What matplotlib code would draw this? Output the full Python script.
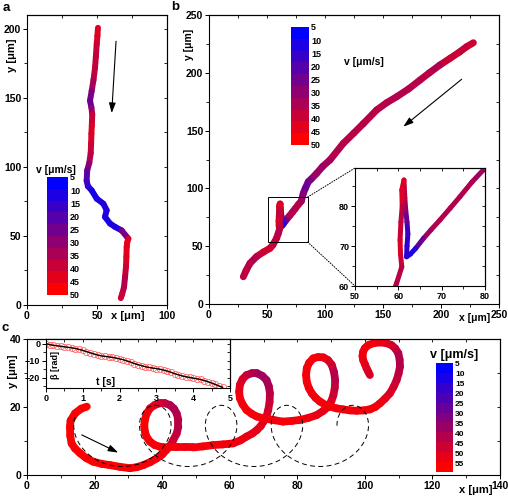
import numpy as np
import matplotlib
matplotlib.use('Agg')
import matplotlib.pyplot as plt
from matplotlib.collections import LineCollection
from matplotlib.colors import LinearSegmentedColormap, ListedColormap, BoundaryNorm, Normalize
from matplotlib.cm import ScalarMappable
from matplotlib.ticker import MultipleLocator, FixedLocator, FixedFormatter, NullLocator
from matplotlib.patches import Rectangle, ConnectionPatch

plt.rcParams['font.family'] = ['Liberation Sans', 'DejaVu Sans']
plt.rcParams['font.weight'] = 'bold'
plt.rcParams['axes.labelweight'] = 'bold'

#----- data -----
# panel a : trajectory (x, y in um) and speed v (um/s)
a_x = [50.7, 50.3, 49.8, 49.2, 48.6, 47.5, 46.2, 45.0, 46.0, 46.6, 46.3, 46.0, 45.8, 45.5,
       44.5, 43.0, 42.6, 43.5, 46.2, 49.8, 54.5, 56.9, 55.7, 59.3, 63.0, 67.6, 72.4, 71.5,
       71.2, 71.0, 70.7, 70.0, 69.3, 68.0, 67.0]
a_y = [200.7, 195, 189, 180, 172, 163, 155, 148, 143, 138, 130, 124, 117, 110,
       103, 97.5, 90, 86, 83, 77, 73.4, 68.6, 63.8, 59, 56.5, 54, 48, 45,
       42, 35, 27.7, 20, 13, 8, 5]
a_v = [42, 45, 42, 38, 40, 38, 32, 22, 25, 38, 42, 45, 42, 40,
       35, 25, 18, 15, 10, 8, 12, 10, 12, 8, 10, 12, 40, 48,
       45, 45, 42, 38, 35, 40, 42]

# panel b
b_x = [227.9, 222, 216, 207.8, 199, 190, 182, 172, 161.8, 153, 144.5, 133, 125, 115.8,
       104.3, 98, 92.8, 88, 85.6, 83, 81.3, 79.6, 77, 74.2, 72, 69.6, 67.5, 65.8, 64,
       62.8, 61.9, 62.0, 62.2, 62.0, 61.7, 61.5, 61.3, 60.8, 60.9, 60.6, 60.4, 60.5,
       60.8, 59.6, 58.3, 55, 52.6, 47, 41, 35.3, 32, 29.6]
b_y = [226, 222.5, 218, 212.5, 206.7, 200, 193.8, 186, 179.3, 174, 167.8, 156, 148, 139,
       124.6, 119, 113, 108, 105.8, 100, 95.8, 89, 86, 82.3, 79.5, 76.5, 74, 71.9, 69.4,
       68, 67.3, 70, 73, 76, 79, 82, 86.5, 84, 80, 76, 71.5, 68,
       64.8, 60.7, 57, 51, 48.2, 45, 41, 35.2, 29, 23.6]
b_v = [40, 42, 38, 42, 38, 35, 40, 35, 38, 35, 40, 35, 40, 35,
       38, 30, 35, 30, 28, 22, 25, 32, 35, 38, 35, 38, 35, 32, 15,
       8, 10, 15, 12, 20, 28, 35, 42, 45, 42, 35, 45, 42,
       40, 35, 38, 40, 38, 45, 38, 35, 40, 38]

# panel c
c_x = [17.7, 16, 14.2, 12.9, 12.7, 12.8, 13.2, 14.2, 15.7, 17.5, 19.6, 22, 24.6, 27.5,
       30.5, 32.5, 34.4, 36.5, 38.4, 40, 41.3, 42.5, 43.3, 44.3, 44.8, 44.8, 44.3, 43.5,
       42.3, 40.8, 39.4, 37.8, 36.4, 35.4, 34.9, 34.7, 34.9, 35.4, 36.4, 37.8, 39.4, 41.8,
       44.3, 46.8, 49.2, 52, 55.1, 58, 61, 63.2, 65, 66.7, 68, 69.2, 70, 70.9,
       71.4, 71.8, 71.9, 71.6, 70.9, 69.6, 68, 66.5, 65, 63.8, 63, 62.8, 63, 63.8,
       65, 66.5, 68, 69.5, 70.9, 73.3, 75.8, 78.3, 80.8, 83.3, 85.7, 87.6, 89.2, 90.1,
       90.7, 91.1, 91.2, 90.9, 90.2, 89.1, 87.7, 86.2, 84.7, 83.5, 82.8, 82.6, 82.8, 83.4,
       84.3, 85.4, 86.7, 88.2, 89.7, 91.6, 93.6, 95.6, 97.6, 99.6, 101.5, 103.1, 104.5, 106,
       107.4, 108.5, 109.4, 110, 110.4, 110.3, 109.9, 109, 107.9, 106.3, 104.5, 102.7, 101, 100,
       99.5, 99.3, 99.5, 100, 100.5, 101, 101.5]
c_y = [20.1, 19.5, 18.1, 16, 14.2, 11.5, 9.3, 7.8, 6.4, 5, 3.9, 3.3, 2.9, 2.4,
       2, 2.3, 2.9, 3.8, 4.9, 6, 7.4, 8.8, 10.3, 12.2, 14.2, 16.2, 18.1, 19.5,
       20.6, 21.1, 21.1, 20.6, 19.6, 18, 16.2, 14.5, 12.7, 11.2, 9.8, 8.8, 8.3, 8.1,
       8.1, 8.1, 8.1, 8.4, 8.8, 9, 9.3, 10.2, 11.3, 12.2, 13.2, 14.4, 15.7, 17.3,
       19.1, 21.5, 24, 26, 27.9, 29.2, 29.9, 29.9, 29.4, 28.2, 26.5, 24.5, 22.6, 20.8,
       19.1, 18, 17.2, 16.8, 16.5, 16.1, 15.7, 15.9, 16.2, 16.8, 17.6, 18.8, 20.1, 21.8,
       23.5, 25.7, 27.9, 30.2, 32.4, 33.8, 34.6, 34.7, 34.3, 33, 31.4, 29.4, 27.4, 25.6,
       24, 22.7, 21.6, 20.7, 20.1, 19.6, 19.3, 19, 18.9, 19, 19.3, 20, 21.1, 22.5,
       24, 25.9, 27.9, 29.9, 31.9, 33.9, 35.8, 37.2, 38.2, 38.8, 39, 38.8, 38.2, 37.3,
       36.3, 35, 33.8, 32.6, 31.4, 30.4, 29.4]
c_v = [55, 54, 55, 53, 55, 54, 55, 53, 55, 54, 55, 53, 55, 54,
       55, 53, 54, 53, 52, 53, 52, 50, 47, 44, 41, 42, 40, 40,
       38, 41, 44, 48, 50, 52, 54, 54, 54, 53, 54, 52, 54, 52,
       54, 51, 53, 52, 54, 52, 54, 52, 51, 50, 51, 50, 50, 48,
       47, 45, 43, 40, 38, 37, 36, 38, 42, 45, 48, 50, 52, 53,
       54, 52, 54, 52, 54, 51, 54, 52, 54, 52, 51, 50, 51, 50,
       47, 44, 41, 40, 42, 47, 50, 52, 53, 54, 52, 54, 52, 54,
       52, 54, 52, 54, 52, 54, 52, 54, 52, 54, 52, 54, 52, 51,
       50, 47, 45, 43, 41, 40, 40, 42, 45, 48, 50, 52, 53, 54,
       52, 54, 52, 51, 50, 48, 47]

# panel c inset : rotation angle beta(t)
beta_t = [0.0, 0.1, 0.2, 0.3, 0.4, 0.5, 0.6, 0.7, 0.8, 0.9, 1.0, 1.1, 1.2, 1.3, 1.4, 1.5,
          1.6, 1.7, 1.8, 1.9, 2.0, 2.1, 2.2, 2.3, 2.4, 2.5, 2.6, 2.7, 2.8, 2.9, 3.0, 3.1,
          3.2, 3.3, 3.4, 3.5, 3.6, 3.7, 3.8, 3.9, 4.0, 4.1, 4.2, 4.3, 4.4, 4.5, 4.6, 4.7, 4.8]
beta = [0.0, -0.5, -0.9, -1.2, -1.5, -1.8, -2.1, -2.4, -2.8, -3.3, -3.9, -4.6, -5.3, -6.0,
        -6.6, -7.1, -7.4, -7.7, -8.0, -8.4, -8.9, -9.4, -10.1, -10.8, -11.6, -12.3, -12.9,
        -13.5, -13.9, -14.3, -14.6, -15.0, -15.5, -16.1, -16.8, -17.6, -18.3, -18.9, -19.4,
        -19.8, -20.2, -20.6, -21.0, -21.6, -22.3, -23.1, -23.9, -24.8, -25.6]

# fitted helical (trochoid) path drawn dashed in c
fit_x0, fit_r, fit_d, fit_yc = 18.5, 3.1, 9.0, 11.5
fit_t0, fit_t1 = 0.9, 8 * np.pi + 1.3

levels_ab = [5, 10, 15, 20, 25, 30, 35, 40, 45, 50]
levels_c = [5, 10, 15, 20, 25, 30, 35, 40, 45, 50, 55]

#------ Figure ----------
vcmap = LinearSegmentedColormap.from_list('br', [(0, 0, 1), (1, 0, 0)])
W, H = 508, 501
fig = plt.figure(figsize=(W / 100, H / 100), dpi=100)


def box(l, t, r, b):
    return [l / W, 1 - b / H, (r - l) / W, (b - t) / H]


def style(ax, xmaj, xmin, ymaj, ymin, fs):
    for sp in ax.spines.values():
        sp.set_linewidth(0.8)
    ax.xaxis.set_major_locator(MultipleLocator(xmaj))
    ax.xaxis.set_minor_locator(MultipleLocator(xmin))
    ax.yaxis.set_major_locator(MultipleLocator(ymaj))
    ax.yaxis.set_minor_locator(MultipleLocator(ymin))
    ax.tick_params(which='major', direction='out', length=3, width=0.7, labelsize=fs, pad=1.2)
    ax.tick_params(which='minor', direction='out', length=2, width=0.6)
    top = ax.secondary_xaxis('top')
    top.xaxis.set_major_locator(MultipleLocator(xmaj))
    top.xaxis.set_minor_locator(MultipleLocator(xmin))
    top.tick_params(which='both', direction='in', labeltop=False, length=2, width=0.6)
    rgt = ax.secondary_yaxis('right')
    rgt.yaxis.set_major_locator(MultipleLocator(ymaj))
    rgt.yaxis.set_minor_locator(MultipleLocator(ymin))
    rgt.tick_params(which='both', direction='in', labelright=False, length=2, width=0.6)
    for s in (top, rgt):
        for sp in s.spines.values():
            sp.set_linewidth(0.8)


def track(ax, x, y, v, norm, lw):
    pts = np.column_stack([x, y])
    segs = np.stack([pts[:-1], pts[1:]], axis=1)
    vv = (np.asarray(v[:-1], float) + np.asarray(v[1:], float)) / 2
    lc = LineCollection(segs, colors=vcmap(norm(vv)), linewidths=lw,
                        capstyle='round', joinstyle='round', zorder=2)
    ax.add_collection(lc)


def vbar(rect, levels, vmin, vmax, ticks, fs):
    cax = fig.add_axes(rect)
    cols = [vcmap((lv - vmin) / (vmax - vmin)) for lv in levels]
    bounds = [levels[0] - 2.5] + [lv + 2.5 for lv in levels]
    sm = ScalarMappable(norm=BoundaryNorm(bounds, len(levels)), cmap=ListedColormap(cols))
    cb = fig.colorbar(sm, cax=cax)
    cb.outline.set_visible(False)
    cax.invert_yaxis()
    cax.yaxis.set_major_locator(FixedLocator(ticks))
    cax.yaxis.set_major_formatter(FixedFormatter([str(lv) for lv in levels]))
    cax.yaxis.set_minor_locator(NullLocator())
    cax.tick_params(which='both', length=0, width=0, labelsize=fs, pad=1.5)
    return cax


def arrow(ax, start, end):
    ax.annotate('', xy=end, xytext=start,
                arrowprops=dict(arrowstyle='-|>,head_length=0.6,head_width=0.2',
                                lw=0.8, color='k', shrinkA=0, shrinkB=0))


norm_ab = Normalize(5, 50)
norm_c = Normalize(5, 55)

# ---- panel a
axa = fig.add_axes(box(27, 15, 167, 305))
axa.set_xlim(0, 100)
axa.set_ylim(0, 210)
style(axa, 50, 25, 50, 25, 7.5)
track(axa, a_x, a_y, a_v, norm_ab, 4.3)
arrow(axa, (63.6, 191), (60.5, 139))
axa.set_xlabel('x [\u03bcm]', fontsize=8)
axa.xaxis.set_label_coords(0.72, -0.022)
axa.set_ylabel('y [\u03bcm]', fontsize=8)
axa.yaxis.set_label_coords(-0.07, 0.86)
vbar(box(47, 177, 68, 295), levels_ab, 5, 50, [2.5 + 50 * i / 9 for i in range(10)], 6.5)
fig.text(56 / W, 1 - 170 / H, 'v [\u03bcm/s]', ha='center', va='center', fontsize=7.5)

# ---- panel b
axb = fig.add_axes(box(209, 15, 499, 304))
axb.set_xlim(0, 250)
axb.set_ylim(0, 250)
style(axb, 50, 25, 50, 25, 7.5)
track(axb, b_x, b_y, b_v, norm_ab, 5)
arrow(axb, (217.8, 194.4), (167.5, 153.4))
axb.set_xlabel('x [\u03bcm]', fontsize=7.5)
axb.xaxis.set_label_coords(0.915, -0.03)
axb.set_ylabel('y [\u03bcm]', fontsize=7.5)
axb.yaxis.set_label_coords(-0.05, 0.9)
axb.add_patch(Rectangle((50.5, 53.6), 34.5, 38.9, fill=False, lw=0.7, ec='k', zorder=3))
vbar(box(291, 27, 309, 145), levels_ab, 5, 50, [2.5 + 50 * i / 9 for i in range(10)], 6.5)
fig.text(364 / W, 1 - 62 / H, 'v [\u03bcm/s]', ha='center', va='center', fontsize=7.5)

axbi = fig.add_axes(box(355, 168, 485, 286))
axbi.set_xlim(50, 80)
axbi.set_ylim(60, 89.5)
style(axbi, 10, 5, 10, 5, 6.5)
track(axbi, b_x, b_y, b_v, norm_ab, 3.6)
for corner, frac in (((85, 92.5), (0, 1)), ((85, 53.6), (0, 0))):
    fig.add_artist(ConnectionPatch(xyA=corner, coordsA=axb.transData, xyB=frac,
                                   coordsB=axbi.transAxes, ls=':', lw=0.7, color='k'))

# ---- panel c
axc = fig.add_axes(box(27, 339, 500, 475))
axc.set_xlim(0, 140)
axc.set_ylim(0, 40)
style(axc, 20, 10, 20, 10, 7.5)
track(axc, c_x, c_y, c_v, norm_c, 5.6)
tt = np.linspace(fit_t0, fit_t1, 600)
axc.plot(fit_x0 + fit_r * tt - fit_d * np.sin(tt), fit_yc + fit_d * np.cos(tt),
         color='k', lw=0.7, dashes=(5, 3.5), zorder=4)
arrow(axc, (16.2, 11.8), (27, 6.6))
axc.set_xlabel('x [\u03bcm]', fontsize=8)
axc.xaxis.set_label_coords(0.949, -0.07)
axc.set_ylabel('y [\u03bcm]', fontsize=8)
axc.yaxis.set_label_coords(-0.02, 0.76)
vbar(box(436, 363, 453, 472), levels_c, 5, 55, [lv - 2.0 for lv in levels_c], 6)
fig.text(454 / W, 1 - 355 / H, 'v [\u03bcm/s]', ha='center', va='center', fontsize=9)

axci = fig.add_axes(box(46, 339, 230, 388))
axci.set_xlim(0, 5)
axci.set_ylim(-26, 2.8)
style(axci, 1, 0.5, 10, 5, 6.5)
axci.plot(beta_t, beta, color='k', lw=0.8, marker='o', ms=4.5, mfc='none',
          mec='#ff5050', mew=0.5)
axci.plot(beta_t, beta, color='k', lw=0.8)
axci.set_xlabel('t [s]', fontsize=7.5)
axci.xaxis.set_label_coords(0.326, 0.22)
axci.set_ylabel('\u03b2 [rad]', fontsize=6.5)
axci.yaxis.set_label_coords(0.078, 0.47)

fig.text(3 / W, 1 - 2 / H, 'a', va='top', fontsize=9.5)
fig.text(171 / W, 1 - 1 / H, 'b', va='top', fontsize=9.5)
fig.text(1 / W, 1 - 322 / H, 'c', va='top', fontsize=9.5)

fig.savefig('out.png', dpi=100)
plt.close(fig)
